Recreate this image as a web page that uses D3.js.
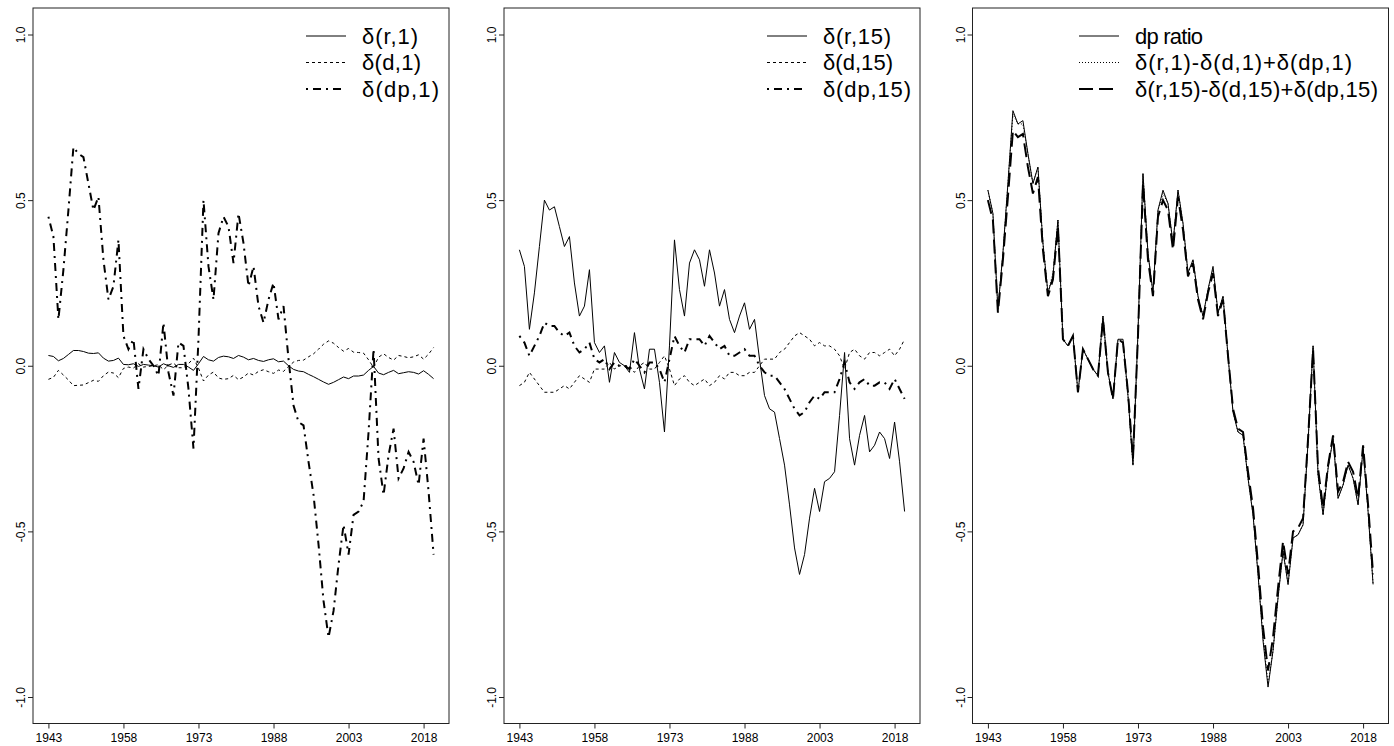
<!DOCTYPE html>
<html>
<head>
<meta charset="utf-8">
<script src="https://cdn.jsdelivr.net/npm/d3@7"></script>
<style>
  body { margin: 0; background: #fff; }
  svg { display: block; }
  text { font-family: Arial, "Liberation Sans", sans-serif; fill: #000; }
</style>
</head>
<body>
<svg id="chart" width="1394" height="746"></svg>
<script>
// years 1943..2020, one value per year
const years = d3.range(1943, 2021);
const tickYears = [1943, 1958, 1973, 1988, 2003, 2018];
const yTicks = [-1, -0.5, 0, 0.5, 1];

// panel 1: one-period decomposition
const dr1 = [0.031,0.028,0.015,0.022,0.034,0.046,0.046,0.043,0.038,0.037,
  0.039,0.023,0.014,0.016,0.023,0.004,0.003,0.006,-0.002,0.004,
  0.002,0.000,-0.004,0.006,0.000,-0.005,0.004,0.004,-0.004,-0.014,
  0.006,0.028,0.018,0.014,0.025,0.029,0.027,0.022,0.031,0.026,
  0.018,0.022,0.016,0.013,0.018,0.021,0.012,0.014,0.000,-0.011,
  -0.016,-0.018,-0.026,-0.033,-0.041,-0.049,-0.056,-0.050,-0.042,-0.034,
  -0.039,-0.031,-0.031,-0.028,-0.014,-0.002,-0.022,-0.027,-0.020,-0.014,
  -0.024,-0.021,-0.018,-0.020,-0.025,-0.015,-0.026,-0.039];
const dd1 = [-0.041,-0.035,-0.014,-0.028,-0.043,-0.060,-0.059,-0.058,-0.051,-0.044,
  -0.047,-0.030,-0.019,-0.022,-0.036,-0.008,-0.004,-0.007,0.006,-0.004,
  -0.002,0.000,0.003,-0.012,0.002,0.008,-0.006,-0.006,0.006,0.023,
  -0.007,-0.046,-0.028,-0.019,-0.037,-0.041,-0.039,-0.029,-0.042,-0.034,
  -0.022,-0.028,-0.017,-0.012,-0.018,-0.023,-0.013,-0.017,-0.002,0.011,
  0.016,0.017,0.027,0.036,0.050,0.065,0.075,0.068,0.055,0.044,
  0.052,0.041,0.040,0.038,0.018,-0.005,0.026,0.036,0.025,0.017,
  0.031,0.028,0.024,0.027,0.033,0.020,0.035,0.055];
const ddp1 = [0.45,0.39,0.14,0.29,0.47,0.66,0.64,0.63,0.55,0.47,
  0.51,0.32,0.20,0.24,0.38,0.09,0.05,0.08,-0.07,0.05,
  0.02,0.00,-0.03,0.13,-0.02,-0.09,0.07,0.06,-0.07,-0.25,
  0.08,0.50,0.30,0.20,0.40,0.45,0.42,0.31,0.46,0.37,
  0.24,0.30,0.18,0.13,0.20,0.25,0.14,0.18,0.02,-0.12,
  -0.17,-0.18,-0.29,-0.39,-0.54,-0.71,-0.82,-0.74,-0.60,-0.48,
  -0.57,-0.45,-0.44,-0.41,-0.20,0.05,-0.28,-0.39,-0.27,-0.19,
  -0.34,-0.31,-0.26,-0.29,-0.36,-0.22,-0.38,-0.57];

// panel 2: fifteen-period decomposition
const dr15 = [0.35,0.30,0.11,0.22,0.36,0.50,0.47,0.48,0.42,0.36,
  0.39,0.25,0.15,0.18,0.29,0.07,0.04,0.06,-0.05,0.04,
  0.01,0.00,-0.02,0.10,-0.01,-0.07,0.05,0.05,-0.05,-0.20,
  0.06,0.38,0.23,0.15,0.31,0.35,0.32,0.24,0.35,0.28,
  0.18,0.23,0.14,0.10,0.15,0.19,0.11,0.14,0.02,-0.09,
  -0.13,-0.14,-0.22,-0.30,-0.42,-0.55,-0.63,-0.57,-0.46,-0.37,
  -0.44,-0.35,-0.34,-0.32,-0.15,0.04,-0.22,-0.30,-0.21,-0.15,
  -0.26,-0.24,-0.20,-0.22,-0.28,-0.17,-0.29,-0.44];
const dd15 = [-0.06,-0.05,-0.02,-0.04,-0.06,-0.08,-0.08,-0.08,-0.07,-0.06,
  -0.07,-0.05,-0.03,-0.04,-0.05,-0.01,-0.01,-0.01,0.01,-0.01,
  0.00,0.00,0.00,-0.02,0.00,0.01,-0.01,-0.01,0.01,0.03,
  -0.01,-0.06,-0.04,-0.03,-0.05,-0.06,-0.05,-0.04,-0.06,-0.05,
  -0.03,-0.04,-0.02,-0.02,-0.03,-0.03,-0.02,-0.02,0.00,0.02,
  0.02,0.02,0.04,0.05,0.07,0.09,0.10,0.09,0.08,0.06,
  0.07,0.06,0.06,0.05,0.03,-0.01,0.04,0.05,0.03,0.02,
  0.04,0.04,0.03,0.04,0.05,0.03,0.05,0.08];
const ddp15 = [0.09,0.07,0.03,0.06,0.09,0.13,0.12,0.12,0.10,0.09,
  0.10,0.06,0.04,0.05,0.07,0.02,0.01,0.02,-0.01,0.01,
  0.00,0.00,-0.01,0.02,0.00,-0.02,0.01,0.01,-0.01,-0.05,
  0.02,0.09,0.06,0.04,0.08,0.08,0.08,0.06,0.09,0.07,
  0.05,0.06,0.03,0.03,0.04,0.05,0.03,0.03,0.00,-0.02,
  -0.03,-0.03,-0.05,-0.07,-0.10,-0.13,-0.15,-0.14,-0.11,-0.09,
  -0.10,-0.08,-0.08,-0.08,-0.04,0.01,-0.05,-0.07,-0.05,-0.04,
  -0.06,-0.06,-0.05,-0.05,-0.07,-0.04,-0.07,-0.10];

// panel 3: dp ratio and the two sums
const dpRatio = [0.53,0.46,0.17,0.34,0.55,0.77,0.73,0.74,0.64,0.55,
  0.60,0.37,0.22,0.27,0.44,0.08,0.06,0.09,-0.08,0.05,
  0.02,-0.01,-0.03,0.15,-0.02,-0.10,0.08,0.08,-0.09,-0.30,
  0.10,0.58,0.34,0.22,0.47,0.53,0.49,0.37,0.53,0.43,
  0.28,0.32,0.21,0.15,0.23,0.30,0.16,0.21,0.03,-0.14,
  -0.20,-0.21,-0.34,-0.45,-0.63,-0.83,-0.97,-0.86,-0.70,-0.56,
  -0.66,-0.52,-0.51,-0.48,-0.23,0.06,-0.33,-0.45,-0.31,-0.22,
  -0.40,-0.36,-0.30,-0.34,-0.42,-0.25,-0.44,-0.66];
const sum1 = [0.53,0.46,0.17,0.34,0.55,0.76,0.73,0.73,0.64,0.55,
  0.60,0.37,0.22,0.28,0.44,0.08,0.06,0.09,-0.08,0.05,
  0.02,-0.01,-0.03,0.15,-0.02,-0.10,0.08,0.07,-0.09,-0.30,
  0.10,0.58,0.34,0.22,0.47,0.52,0.49,0.37,0.53,0.43,
  0.28,0.32,0.21,0.15,0.23,0.29,0.16,0.21,0.03,-0.14,
  -0.20,-0.21,-0.34,-0.45,-0.63,-0.82,-0.96,-0.86,-0.70,-0.56,
  -0.66,-0.52,-0.51,-0.48,-0.23,0.06,-0.33,-0.45,-0.31,-0.22,
  -0.40,-0.36,-0.30,-0.34,-0.42,-0.25,-0.44,-0.66];
const sum15 = [0.50,0.44,0.16,0.32,0.51,0.71,0.69,0.70,0.60,0.52,
  0.57,0.35,0.21,0.26,0.42,0.08,0.06,0.09,-0.08,0.05,
  0.02,-0.01,-0.03,0.14,-0.02,-0.10,0.08,0.07,-0.08,-0.28,
  0.09,0.55,0.32,0.21,0.45,0.50,0.47,0.35,0.51,0.41,
  0.27,0.31,0.20,0.14,0.22,0.28,0.15,0.20,0.03,-0.13,
  -0.19,-0.20,-0.32,-0.43,-0.60,-0.79,-0.92,-0.82,-0.67,-0.53,
  -0.63,-0.50,-0.49,-0.46,-0.22,0.05,-0.31,-0.43,-0.30,-0.21,
  -0.38,-0.35,-0.29,-0.32,-0.40,-0.24,-0.42,-0.63];

// legend text widths (px) as they appear in the original, per panel
const panels = [
  { left: 33, legendX: 362, legendW: [56, 59, 77], series: [
    { name: "δ(r,1)", values: dr1, dash: null, width: 1 },
    { name: "δ(d,1)", values: dd1, dash: "3,3", width: 1 },
    { name: "δ(dp,1)", values: ddp1, dash: "2,5,8,5", width: 2 } ] },
  { left: 504, legendX: 823, legendW: [68, 70, 88], series: [
    { name: "δ(r,15)", values: dr15, dash: null, width: 1 },
    { name: "δ(d,15)", values: dd15, dash: "3,3", width: 1 },
    { name: "δ(dp,15)", values: ddp15, dash: "2,5,8,5", width: 2 } ] },
  { left: 972.5, legendX: 1135, legendW: [68, 217, 243], series: [
    { name: "dp ratio", values: dpRatio, dash: null, width: 1 },
    { name: "δ(r,1)-δ(d,1)+δ(dp,1)", values: sum1, dash: "1,2", width: 1 },
    { name: "δ(r,15)-δ(d,15)+δ(dp,15)", values: sum15, dash: "14,6", width: 2 } ] }
];

const panelW = 416, plotTop = 8, plotBottom = 723.5;
const svg = d3.select("#chart");

// R style: 4% padding of the data range
const xPad = (years[years.length - 1] - years[0]) * 0.04;

panels.forEach(p => {
  const x = d3.scaleLinear()
    .domain([years[0] - xPad, years[years.length - 1] + xPad])
    .range([p.left, p.left + panelW]);
  const y = d3.scaleLinear().domain([-1.08, 1.08]).range([plotBottom, plotTop]);

  const g = svg.append("g");

  const line = d3.line()
    .x((d, i) => x(years[i]))
    .y(d => y(d));

  p.series.forEach(s => {
    g.append("path")
      .datum(s.values)
      .attr("d", line)
      .attr("fill", "none")
      .attr("stroke", "#000")
      .attr("stroke-width", s.width)
      .attr("stroke-dasharray", s.dash);
  });

  // frame
  g.append("rect")
    .attr("x", p.left).attr("y", plotTop)
    .attr("width", panelW).attr("height", plotBottom - plotTop)
    .attr("fill", "none").attr("stroke", "#222").attr("stroke-width", 1);

  // y axis
  const ya = g.append("g")
    .attr("transform", `translate(${p.left},0)`)
    .call(d3.axisLeft(y).tickValues(yTicks).tickSize(5).tickFormat(d => d.toFixed(1)));
  ya.select(".domain").remove();
  ya.selectAll("line").attr("stroke", "#222");
  ya.selectAll("text")
    .attr("x", null).attr("dy", null)
    .attr("transform", "translate(-8,0) rotate(-90)")
    .attr("text-anchor", "middle")
    .style("font-size", "12px")
    .style("font-family", "Arial, 'Liberation Sans', sans-serif");

  // x axis
  const xa = g.append("g")
    .attr("transform", `translate(0,${plotBottom})`)
    .call(d3.axisBottom(x).tickValues(tickYears).tickSize(5).tickFormat(d3.format("d")));
  xa.select(".domain").remove();
  xa.selectAll("line").attr("stroke", "#222");
  xa.selectAll("text")
    .attr("y", 18).attr("dy", null)
    .style("font-size", "12px")
    .style("font-family", "Arial, 'Liberation Sans', sans-serif");

  // legend, top right, no box
  const lg = g.append("g");
  const rowY = i => 36 + i * 26.5;
  lg.selectAll("text")
    .data(p.series)
    .join("text")
      .attr("x", p.legendX)
      .attr("y", (d, i) => rowY(i))
      .attr("dominant-baseline", "central")
      .attr("textLength", (d, i) => p.legendW[i])
      .attr("lengthAdjust", "spacing")
      .style("font-size", "22px")
      .text(d => d.name);
  lg.selectAll("line")
    .data(p.series)
    .join("line")
      .attr("x1", p.legendX - 56).attr("x2", p.legendX - 16)
      .attr("y1", (d, i) => rowY(i))
      .attr("y2", (d, i) => rowY(i))
      .attr("stroke", "#000")
      .attr("stroke-width", d => d.width)
      .attr("stroke-dasharray", d => d.dash);
});
</script>
</body>
</html>
